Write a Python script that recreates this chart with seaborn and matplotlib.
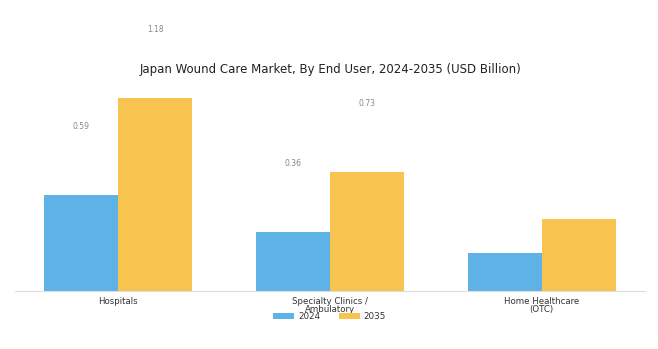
import matplotlib
matplotlib.use("Agg")
import matplotlib.pyplot as plt
import seaborn as sns
import pandas as pd

categories = ["Hospitals", "Specialty Clinics /\nAmbulatory", "Home Healthcare\n(OTC)"]
years = ["2024", "2035"]
values_2024 = [0.59, 0.36, 0.23]
values_2035 = [1.18, 0.73, 0.44]
labels_2024 = ["0.59", "0.36", ""]
labels_2035 = ["1.18", "0.73", ""]

df = pd.DataFrame({
    "End User": categories * 2,
    "Year": [years[0]] * 3 + [years[1]] * 3,
    "Value": values_2024 + values_2035,
})

sns.set_style("white")
fig = plt.figure(figsize=(6.58, 3.49), dpi=100)
ax = fig.add_axes([0.0228, 0.166, 0.957, 0.590])
palette = {"2024": "#5DB3E6", "2035": "#F8C44F"}
sns.barplot(data=df, x="End User", y="Value", hue="Year", palette=palette,
            width=0.7, ax=ax, saturation=1, legend=True, linewidth=0)

ax.set_xlim(-0.486, 2.486)
ax.set_ylim(0, 1.26)
ax.set_xlabel("")
ax.set_ylabel("")
ax.set_yticks([])
for s in ["top", "right", "left"]:
    ax.spines[s].set_visible(False)
ax.spines["bottom"].set_color("#dddddd")
ax.tick_params(axis="x", labelsize=6.2, length=3, color="#dddddd", pad=1, labelcolor="#333333")
for t in ax.get_xticklabels():
    t.set_linespacing(0.95)

for container, labs in zip(ax.containers, [labels_2024, labels_2035]):
    for bar, lab in zip(container, labs):
        if lab:
            ax.text(bar.get_x() + bar.get_width() / 2, bar.get_height() + 0.42, lab,
                    ha="center", va="center", fontsize=5.5, color="#888888", clip_on=False)

fig.text(0.502, 0.80, "Japan Wound Care Market, By End User, 2024-2035 (USD Billion)",
         ha="center", va="center", fontsize=8.5, color="#222222")

leg = ax.legend(loc="center", bbox_to_anchor=(0.5, -0.125), ncol=2, frameon=False,
                fontsize=6.3, handlelength=2.4, handleheight=0.7, columnspacing=2.2,
                handletextpad=0.4)
for t in leg.get_texts():
    t.set_color("#333333")

fig.savefig("out.png", dpi=100)
